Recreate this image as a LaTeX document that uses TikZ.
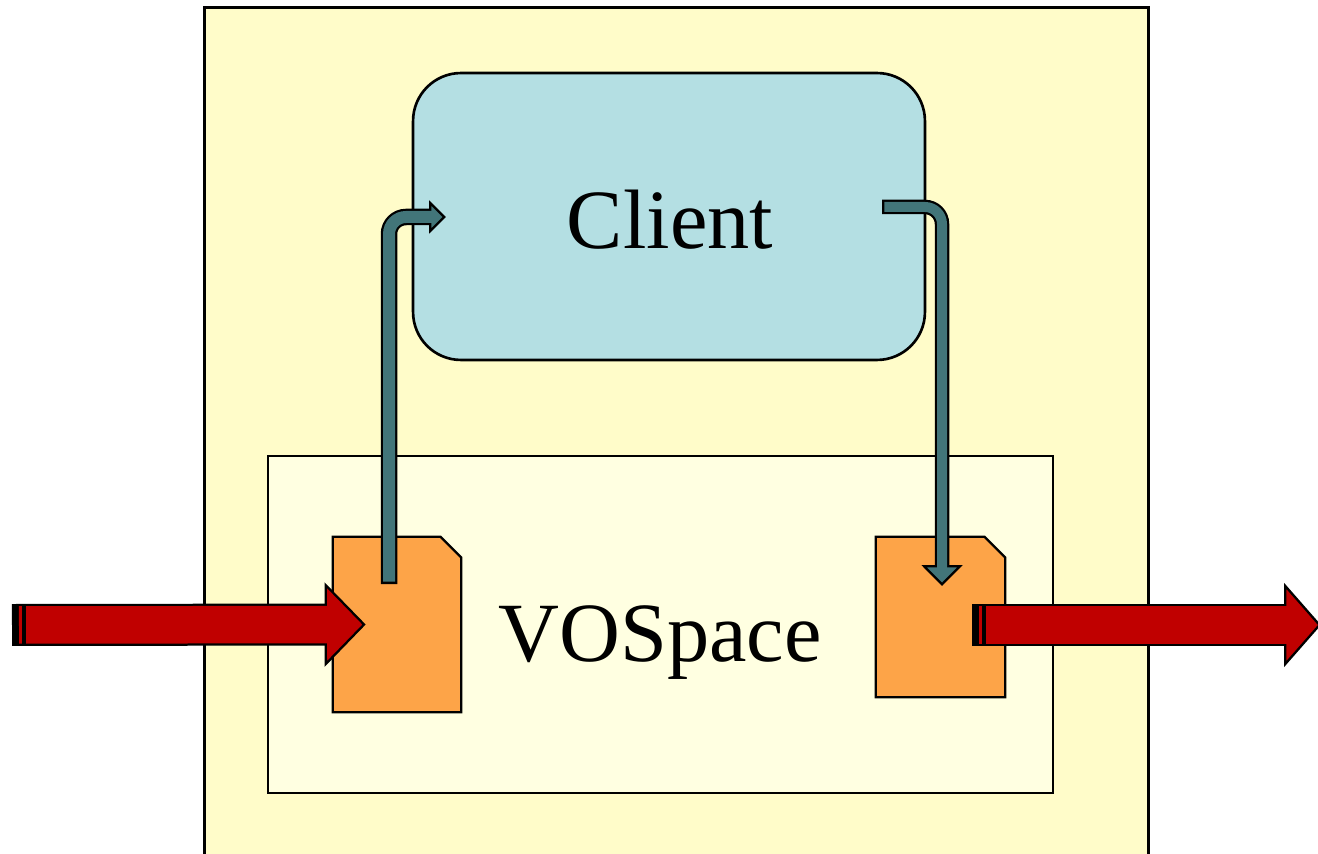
\documentclass[tikz,border=0pt]{standalone}
\usepackage{fontspec}
\setmainfont{Liberation Serif}
\usepackage{tikz}
\usetikzlibrary{arrows.meta}
\definecolor{outerYellow}{RGB}{255,252,201}
\definecolor{innerYellow}{RGB}{255,255,225}
\definecolor{clientBlue}{RGB}{180,223,227}
\definecolor{docOrange}{RGB}{253,164,72}
\definecolor{flowRed}{RGB}{192,0,0}
\definecolor{flowTeal}{RGB}{66,117,121}

\begin{document}
\begin{tikzpicture}[x=0.02cm,y=-0.02cm]
 \newcommand{\docCut}{0.42cm}
	\tikzset{panel/.style = {rectangle,draw=black,line width=1.5pt,inner sep=0pt}}
	\tikzset{doc/.style = {rectangle,inner sep=0pt}}
	\tikzset{bigText/.style = {font=\fontsize{48}{56}\selectfont,inner sep=0pt}}
	\tikzstyle{docShape} = [draw=black,line width=1.3pt,fill=docOrange]
	\tikzstyle{tealEdge} = [draw=black,rounded corners=0.34cm]
	\tikzstyle{tealCore} = [draw=flowTeal,rounded corners=0.34cm]
	\tikzstyle{redEdge} = [draw=black,line width=0.84cm]
	\tikzstyle{redCore} = [draw=flowRed,line width=0.75cm]
	\clip (0,0) rectangle (1318,854);
	%host and VOSpace boxes
	\node[panel,fill=outerYellow,minimum width=18.88cm,minimum height=17.1cm] (host) at (676.5,435) {};
	\node[panel,fill=innerYellow,minimum width=15.7cm,minimum height=6.74cm] (vospace) at (660.5,624.5) {};
	%Client
	\node[panel,fill=clientBlue,rounded corners=0.96cm,minimum width=10.24cm,minimum height=5.74cm] (client) at (669,216.5) {};
	\node[bigText,anchor=base] (clientLabel) at (670,249) {Client};
	\node[bigText,anchor=base] (vospaceLabel) at (660,661) {VOSpace};
	%documents
	\node[doc,minimum width=2.56cm,minimum height=3.5cm] (inDoc) at (397,624.5) {};
	\node[doc,minimum width=2.58cm,minimum height=3.2cm] (outDoc) at (940.5,617) {};
	\draw[docShape] (inDoc.south west) -- (inDoc.north west) -- ([xshift=-\docCut]inDoc.north east)
		-- ([yshift=-\docCut]inDoc.north east) -- (inDoc.south east) -- cycle;
	\draw[docShape] (outDoc.south west) -- (outDoc.north west) -- ([xshift=-\docCut]outDoc.north east)
		-- ([yshift=-\docCut]outDoc.north east) -- (outDoc.south east) -- cycle;
	%read: document to client
	\coordinate (readFoot) at (389,584);
	\coordinate (readTip) at (446,217);
	\draw[tealEdge,line width=0.33cm,-{Triangle[length=0.34cm,width=0.66cm,fill=flowTeal,line width'=1.3pt]}] (readFoot) |- (readTip);
	\draw[tealCore,line width=0.24cm,shorten <=1.3pt,shorten >=0.28cm] (readFoot) |- (readTip);
	%write: client to document
	\coordinate (writeFoot) at (882,207);
	\coordinate (writeTip) at (942,586);
	\draw[tealEdge,line width=0.29cm,-{Triangle[length=0.42cm,width=0.82cm,fill=flowTeal,line width'=1.3pt]}] (writeFoot) -| (writeTip);
	\draw[tealCore,line width=0.2cm,shorten <=1.3pt,shorten >=0.36cm] (writeFoot) -| (writeTip);
	%data in
	\coordinate (inTail) at (12,625);
	\coordinate (inTip) at ([xshift=0.66cm]inDoc.west);
	\draw[redEdge,-{Triangle[length=0.82cm,width=1.68cm,fill=flowRed,line width'=1.3pt]}] (inTail) -- (inTip);
	\draw[redCore,shorten <=0.14cm,shorten >=0.76cm] (inTail) -- (inTip);
	\draw[redEdge] ([xshift=0.2cm]inTail) -- ([xshift=0.28cm]inTail);
	%data out
	\coordinate (outTail) at (972,625);
	\coordinate (outTip) at (1321,625);
	\draw[redEdge,-{Triangle[length=0.74cm,width=1.68cm,fill=flowRed,line width'=1.3pt]}] (outTail) -- (outTip);
	\draw[redCore,shorten <=0.14cm,shorten >=0.68cm] (outTail) -- (outTip);
	\draw[redEdge] ([xshift=0.2cm]outTail) -- ([xshift=0.28cm]outTail);
\end{tikzpicture}
\end{document}
